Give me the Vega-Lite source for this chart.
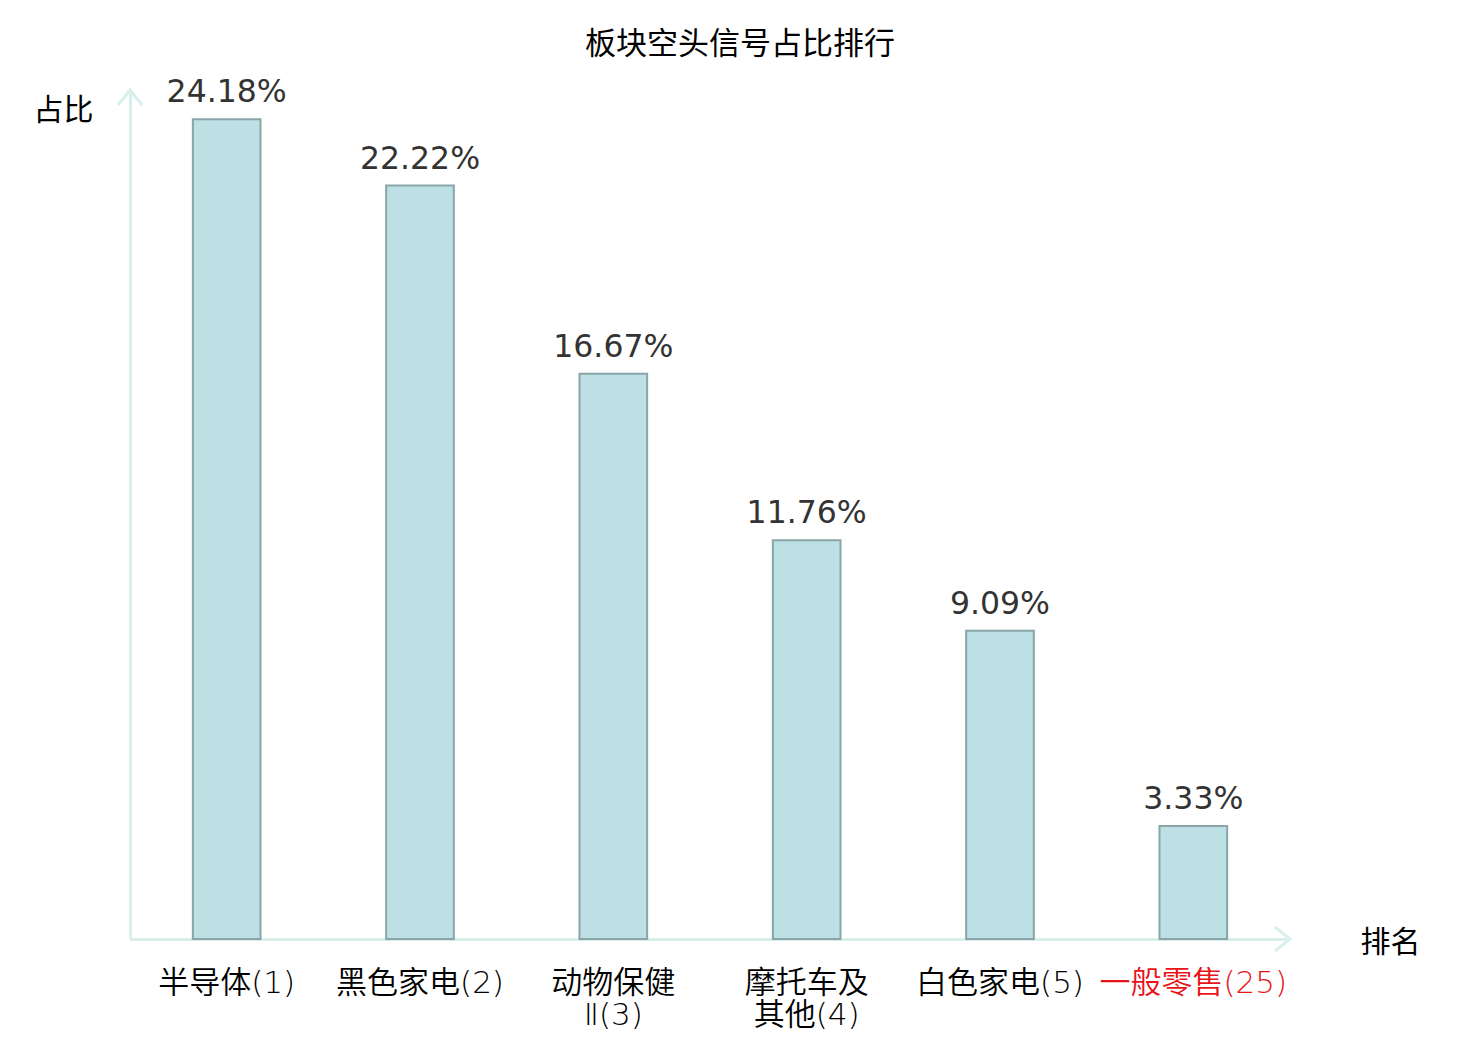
{
  "$schema": "https://vega.github.io/schema/vega-lite/v6.json",
  "autosize": "none",
  "width": 1160,
  "height": 849,
  "padding": {"left": 130, "top": 90, "right": 190, "bottom": 101},
  "background": "white",
  "title": {
    "text": "板块空头信号占比排行",
    "font": "Noto Sans CJK SC",
    "fontSize": 31,
    "fontWeight": "normal",
    "color": "black",
    "anchor": "middle",
    "dx": 30,
    "offset": 16
  },
  "config": {"view": {"stroke": null}},
  "data": {
    "values": [
      {"label": "半导体(1)", "value": 24.18, "text": "24.18%"},
      {"label": "黑色家电(2)", "value": 22.22, "text": "22.22%"},
      {"label": "动物保健|Ⅱ(3)", "value": 16.67, "text": "16.67%"},
      {"label": "摩托车及|其他(4)", "value": 11.76, "text": "11.76%"},
      {"label": "白色家电(5)", "value": 9.09, "text": "9.09%"},
      {"label": "一般零售(25)", "value": 3.33, "text": "3.33%"}
    ]
  },
  "layer": [
    {
      "mark": {"type": "bar", "fill": "#bce0e3", "stroke": "#8aa5a8", "strokeWidth": 2},
      "encoding": {
        "x": {
          "field": "label",
          "type": "nominal",
          "sort": null,
          "scale": {"paddingInner": 0.65, "paddingOuter": 0.325},
          "axis": {
            "title": "排名",
            "titleFont": "Noto Sans CJK SC",
            "titleFontSize": 30,
            "titleFontWeight": "normal",
            "titleColor": "black",
            "titleX": 1260,
            "titleY": 3,
            "titleAlign": "center",
            "titleBaseline": "middle",
            "labelAngle": 0,
            "labelFont": "DejaVu Sans, Noto Sans CJK SC",
            "labelFontWeight": 350,
            "labelFontSize": 31,
            "labelLimit": 400,
            "labelColor": {"condition": {"test": "datum.value == '一般零售(25)'", "value": "#e8141a"}, "value": "black"},
            "labelExpr": "split(datum.value, '|')",
            "labelLineHeight": 32,
            "labelPadding": 29,
            "labelBaseline": "top",
            "labelOverlap": false,
            "labelBound": false,
            "ticks": false,
            "domainColor": "#d8efec",
            "domainWidth": 3,
            "grid": false
          }
        },
        "y": {
          "field": "value",
          "type": "quantitative",
          "scale": {"domain": [0, 25.04], "nice": false},
          "axis": {
            "title": "占比",
            "titleFont": "Noto Sans CJK SC",
            "titleFontSize": 30,
            "titleFontWeight": "normal",
            "titleColor": "black",
            "titleAngle": 0,
            "titleX": -67,
            "titleY": 20,
            "titleAlign": "center",
            "titleBaseline": "middle",
            "labels": false,
            "ticks": false,
            "grid": false,
            "domainColor": "#d8efec",
            "domainWidth": 3
          }
        }
      }
    },
    {
      "mark": {"type": "text", "baseline": "bottom", "dy": -10, "font": "DejaVu Sans", "fontSize": 31.5, "color": "#333333"},
      "encoding": {
        "x": {"field": "label", "type": "nominal", "sort": null},
        "y": {"field": "value", "type": "quantitative"},
        "text": {"field": "text"}
      }
    },
    {
      "data": {"values": [{"axis": "y"}]},
      "mark": {"type": "point", "shape": "M-0.8,1L0,0L0.8,1", "x": 0, "y": 0, "size": 900, "filled": false, "stroke": "#d8efec", "strokeWidth": 3, "opacity": 1},
      "encoding": {}
    },
    {
      "data": {"values": [{"axis": "x"}]},
      "mark": {"type": "point", "shape": "M-1,-0.8L0,0L-1,0.8", "x": "width", "y": "height", "size": 900, "filled": false, "stroke": "#d8efec", "strokeWidth": 3, "opacity": 1},
      "encoding": {}
    }
  ]
}
